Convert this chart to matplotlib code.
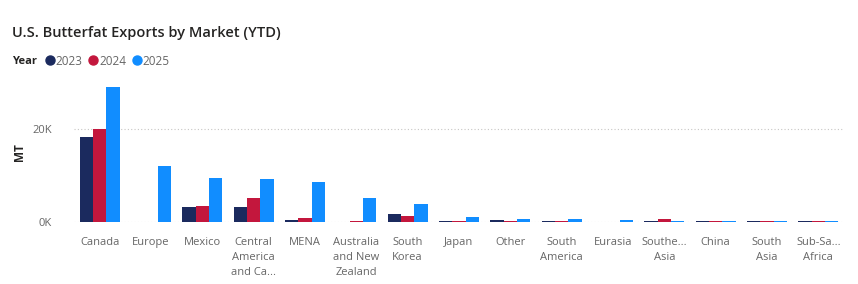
import matplotlib.pyplot as plt
from matplotlib.lines import Line2D
import numpy as np

plt.rcParams['font.family'] = ['Open Sans', 'DejaVu Sans']

#---------- data ----------
markets = ["Canada", "Europe", "Mexico", "Central\nAmerica\nand Ca...", "MENA",
           "Australia\nand New\nZealand", "South\nKorea", "Japan", "Other",
           "South\nAmerica", "Eurasia", "Southe...\nAsia", "China", "South\nAsia",
           "Sub-Sa...\nAfrica"]
years = ["2023", "2024", "2025"]
y2023 = [18300, 120, 3200, 3200, 400, 0, 1700, 150, 400, 300, 0, 300, 250, 150, 150]
y2024 = [20000, 120, 3400, 5200, 900, 200, 1400, 150, 300, 300, 0, 600, 200, 150, 150]
y2025 = [29200, 12000, 9500, 9200, 8600, 5200, 3900, 1000, 600, 600, 400, 300, 200, 150, 150]
colors = ["#1b2a5e", "#c3173d", "#118dff"]
yticks = [0, 20000]
ytick_labels = ["0K", "20K"]
#--------------------------

fig = plt.figure(figsize=(8.58, 2.84), dpi=100, facecolor='w')
ax = fig.add_axes([0.0862, 0.218, 0.8975, 0.490])

x = np.arange(len(markets))
w = 0.26
for i, vals in enumerate([y2023, y2024, y2025]):
    ax.bar(x + (i - 1) * w, vals, width=w, color=colors[i], label=years[i], zorder=3)

ax.set_xlim(-0.5, len(markets) - 0.5)
ax.set_ylim(0, 30000)
ax.set_yticks(yticks)
ax.set_yticklabels(ytick_labels)
ax.set_xticks(x)
ax.set_xticklabels(markets, va='top', linespacing=1.45)
ax.tick_params(axis='both', length=0, labelsize=8, labelcolor='#666666')
ax.tick_params(axis='x', pad=11)
ax.tick_params(axis='y', pad=16)
ax.grid(axis='y', linestyle=(0, (1, 2)), color='#c8c6c4', linewidth=0.8, zorder=4)
for s in ax.spines.values():
    s.set_visible(False)
ax.set_ylabel("MT", fontsize=8.5, fontweight='bold', color='#252423')
ax.yaxis.set_label_coords(-0.062, 0.5)

fig.text(0.014, 0.885, "U.S. Butterfat Exports by Market (YTD)", fontsize=10.5,
         color='#252423', va='center', fontweight='semibold')
fig.text(0.014, 0.785, "Year", fontsize=8, fontweight='bold', color='#252423', va='center')
handles = [Line2D([], [], marker='o', linestyle='', markersize=6.5, color=c) for c in colors]
fig.legend(handles, years, loc='center left', bbox_to_anchor=(0.050, 0.785), ncol=3,
           frameon=False, fontsize=8.5, handletextpad=-0.1, columnspacing=0.3,
           borderaxespad=0, borderpad=0, labelcolor='#666666', handlelength=1.2)

plt.savefig("out.png", dpi=100, facecolor='w')
